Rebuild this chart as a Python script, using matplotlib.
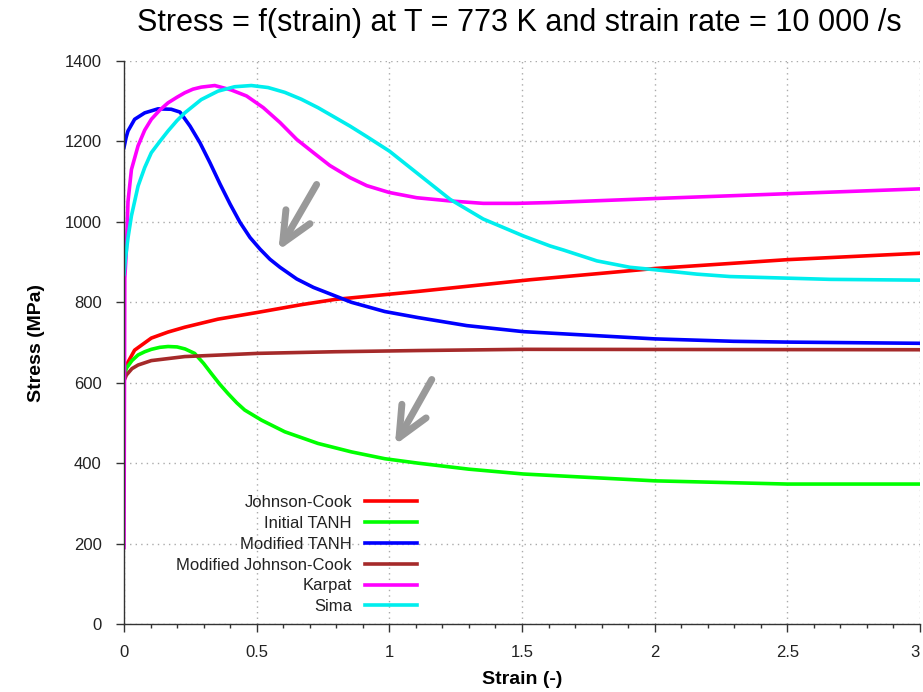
import matplotlib
matplotlib.use("Agg")
import matplotlib.pyplot as plt
from matplotlib.ticker import MultipleLocator

plt.rcParams['font.family'] = ['Liberation Sans', 'DejaVu Sans']

# values (strain, stress in MPa)
jc_strain = [0, 0.009, 0.04, 0.103, 0.166, 0.229, 0.354, 0.505, 0.668, 0.794, 0.983, 1.108, 1.53, 2.0, 2.5, 3.0]
jc_stress = [625, 644, 681, 711, 726, 738, 758, 775, 794, 807, 819, 827, 856, 884, 906, 922]

tanh_strain = [0, 0.009, 0.03, 0.053, 0.078, 0.103, 0.135, 0.166, 0.2, 0.23, 0.266, 0.3, 0.329, 0.36,
               0.392, 0.425, 0.455, 0.518, 0.606, 0.731, 0.857, 0.983, 1.108, 1.3, 1.505, 2.0, 2.5, 3.0]
tanh_stress = [615, 636, 655, 669, 677, 683, 688, 690, 689, 684, 673, 648, 623, 597,
               573, 550, 532, 507, 478, 449, 428, 411, 400, 385, 373, 356, 348, 348]

mtanh_strain = [0, 0.008, 0.015, 0.04, 0.078, 0.128, 0.178, 0.211, 0.249, 0.286, 0.324, 0.362, 0.4,
                0.437, 0.475, 0.513, 0.55, 0.588, 0.651, 0.714, 0.776, 0.857, 0.983, 1.108,
                1.292, 1.505, 2.0, 2.296, 2.5, 3.0]
mtanh_stress = [1185, 1210, 1226, 1255, 1271, 1281, 1280, 1273, 1238, 1197, 1147, 1094, 1044,
                999, 961, 932, 907, 887, 858, 837, 821, 800, 777, 762,
                742, 727, 709, 703, 701, 698]

mjc_strain = [0, 0.009, 0.03, 0.053, 0.103, 0.229, 0.505, 0.794, 1.108, 1.505, 3.0]
mjc_stress = [605, 619, 635, 644, 655, 665, 673, 677, 680, 683, 682]

karpat_strain = [0, 0.003, 0.009, 0.015, 0.028, 0.053, 0.078, 0.103, 0.135, 0.166, 0.2, 0.229,
                 0.26, 0.291, 0.342, 0.404, 0.462, 0.525, 0.588, 0.651, 0.714, 0.776, 0.852,
                 0.915, 1.0, 1.103, 1.229, 1.354, 1.48, 1.606, 2.0, 2.5, 3.0]
karpat_stress = [190, 860, 930, 1050, 1130, 1189, 1228, 1255, 1278, 1296, 1310, 1321,
                 1330, 1335, 1339, 1328, 1313, 1284, 1247, 1205, 1172, 1140, 1110,
                 1090, 1073, 1060, 1052, 1046, 1046, 1048, 1058, 1070, 1082]

sima_strain = [0, 0.005, 0.015, 0.028, 0.053, 0.078, 0.103, 0.135, 0.166, 0.2, 0.229, 0.291,
               0.354, 0.417, 0.48, 0.543, 0.606, 0.668, 0.731, 0.789, 0.852, 0.915, 1.0,
               1.103, 1.229, 1.354, 1.505, 1.606, 1.656, 1.782, 1.907, 2.0, 2.159, 2.284,
               2.5, 2.661, 3.0]
sima_stress = [870, 907, 960, 1015, 1089, 1135, 1172, 1200, 1226, 1252, 1271, 1304,
               1325, 1336, 1339, 1334, 1322, 1305, 1284, 1262, 1238, 1212, 1176,
               1122, 1056, 1007, 965, 940, 930, 903, 887, 881, 870, 864,
               860, 857, 855]

labels = ["Johnson-Cook", "Initial TANH", "Modified TANH", "Modified Johnson-Cook", "Karpat", "Sima"]
colors = ["#ff0000", "#00ff00", "#0000ff", "#a52a2a", "#ff00ff", "#00eeee"]

series = [(jc_strain, jc_stress), (tanh_strain, tanh_stress), (mtanh_strain, mtanh_stress),
          (mjc_strain, mjc_stress), (karpat_strain, karpat_stress), (sima_strain, sima_stress)]

x_ticks = [0, 0.5, 1, 1.5, 2, 2.5, 3]

fig = plt.figure(figsize=(9.23, 6.92), dpi=100)
ax = fig.add_axes([124 / 923, 1 - 624 / 692, 796 / 923, 563 / 692])

for (xs, ys), lab, col in zip(series, labels, colors):
    ax.plot(xs, ys, color=col, lw=2.6, label=lab, solid_joinstyle='round')

# grey arrows showing the softening
arrow_props = dict(arrowstyle='->,head_length=2.2,head_width=1.0', color='#999999', lw=5,
                   capstyle='round', joinstyle='round', shrinkA=0, shrinkB=0, mutation_scale=10)
ax.annotate('', xy=(0.582, 929), xytext=(0.726, 1093), arrowprops=arrow_props)
ax.annotate('', xy=(1.021, 445), xytext=(1.160, 608), arrowprops=arrow_props)

ax.set_xlim(0, 3)
ax.set_ylim(0, 1400)
ax.set_xticks(x_ticks)
ax.set_xticklabels([f'{v:g}' for v in x_ticks])
ax.xaxis.set_minor_locator(MultipleLocator(0.1))
ax.yaxis.set_major_locator(MultipleLocator(200))

ax.grid(True, which='major', color='#aaaaaa', linestyle=(0, (1, 3)), lw=1)
ax.set_axisbelow(True)

for s in ['top', 'right']:
    ax.spines[s].set_visible(False)
for s in ['left', 'bottom']:
    ax.spines[s].set_color('#333333')
    ax.spines[s].set_linewidth(1)

ax.tick_params(axis='both', which='major', direction='out', length=6, width=1,
               color='#333333', labelsize=12, labelcolor='#222222')
ax.tick_params(axis='x', which='major', pad=9)
ax.tick_params(axis='y', which='major', pad=10)
ax.tick_params(axis='x', which='minor', direction='out', length=3, width=1, color='#333333')
ax.get_xticklabels()[-1].set_ha('right')

ax.set_xlabel('Strain (-)', fontsize=14, fontweight='bold', labelpad=8)
ax.set_ylabel('Stress (MPa)', fontsize=14, fontweight='bold', labelpad=14)
fig.suptitle('Stress = f(strain) at T = 773 K and strain rate = 10 000 /s', fontsize=22,
             x=0.563, y=0.988)

leg = ax.legend(loc='upper right', bbox_to_anchor=(0.368, 0.229), frameon=False,
                markerfirst=False, fontsize=12, handlelength=3.1, handletextpad=0.8,
                labelspacing=0.35, borderpad=0, borderaxespad=0)
for t in leg.get_texts():
    t.set_color('#222222')

fig.savefig('out.png', dpi=100)
